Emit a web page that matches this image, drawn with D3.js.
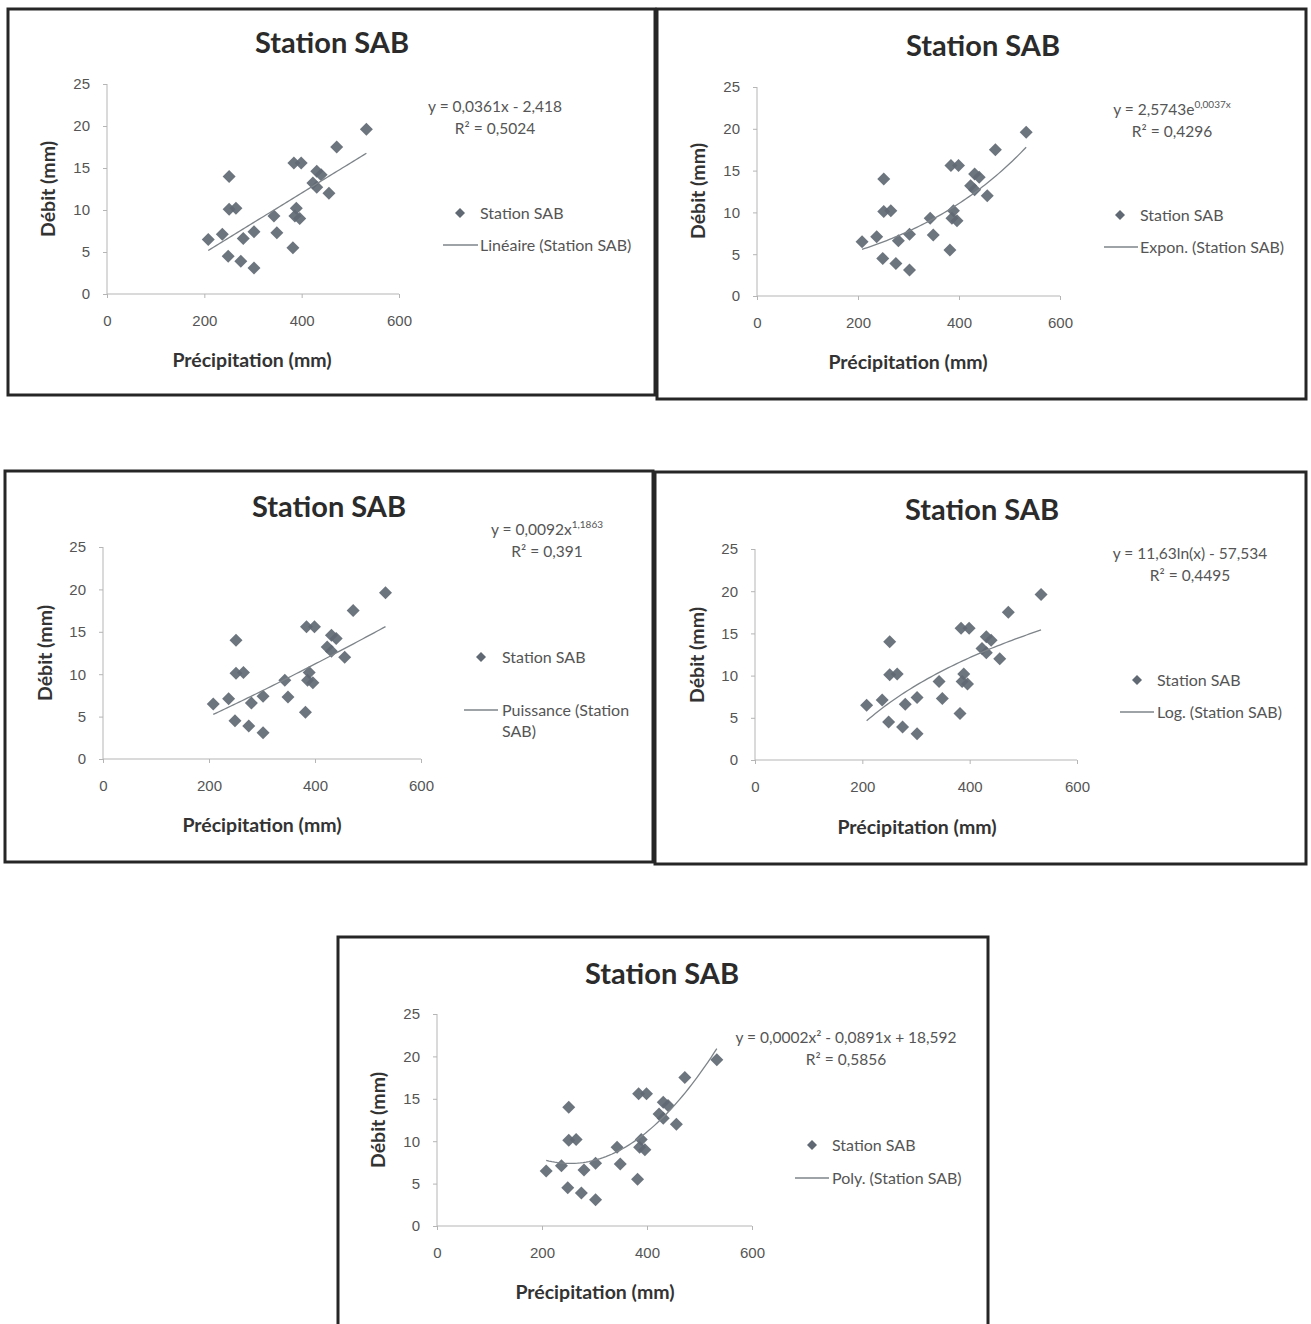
<!DOCTYPE html>
<html>
<head>
<meta charset="utf-8">
<script src="https://cdn.jsdelivr.net/npm/d3@7"></script>
<style>
  body { margin: 0; background: #fff; }
  svg { font-family: Lato, "Open Sans", sans-serif; }
  .tick text { fill: #555; font-size: 15px; }
  .domain, .tick line { stroke: #b5b5b5; }
</style>
</head>
<body>
<div id="chart"></div>
<script>
// (same 25 points in every panel)
var precip = [208, 237, 251, 251, 265, 249, 280, 275, 302, 302, 343, 349, 382,
              384, 399, 389, 386, 396, 423, 431, 440, 431, 456, 472, 533];
var debit = [6.5, 7.1, 14.0, 10.1, 10.2, 4.5, 6.6, 3.9, 7.4, 3.1, 9.3, 7.3, 5.5,
             15.6, 15.6, 10.2, 9.3, 9.0, 13.2, 14.6, 14.2, 12.7, 12.0, 17.5, 19.6];

var xTicks = [0, 200, 400, 600];
var yTicks = [0, 5, 10, 15, 20, 25];

var titleText = "Station SAB";
var seriesName = "Station SAB";
var xTitle = "Précipitation (mm)";
var yTitle = "Débit (mm)";

var fitTypes = ["linear", "exp", "power", "log", "poly"];
var trendNames = [["Linéaire (Station SAB)"], ["Expon. (Station SAB)"],
                  ["Puissance (Station", "SAB)"], ["Log. (Station SAB)"], ["Poly. (Station SAB)"]];
// equation lines: [text, superscript?]
var equations = [
  [[["y = 0,0361x - 2,418", false]], [["R² = 0,5024", false]]],
  [[["y = 2,5743e", false], ["0,0037x", true]], [["R² = 0,4296", false]]],
  [[["y = 0,0092x", false], ["1,1863", true]], [["R² = 0,391", false]]],
  [[["y = 11,63ln(x) - 57,534", false]], [["R² = 0,4495", false]]],
  [[["y = 0,0002x² - 0,0891x + 18,592", false]], [["R² = 0,5856", false]]]
];

// panel layout
var panels = [
  {box: [8, 9, 647, 386], plot: [107, 84, 399, 294], title: [332, 43], xl: [252, 360], yl: [48, 189],
   eq: [495, 107], mk: [460, 213], leg: [443, 478, 245], txt: 480},
  {box: [657, 9, 649, 390], plot: [757, 87, 1060, 296], title: [983, 46], xl: [908, 362], yl: [698, 191],
   eq: [1172, 110], mk: [1120, 215], leg: [1104, 1138, 247], txt: 1140},
  {box: [5, 471, 648, 391], plot: [103, 547, 421, 759], title: [329, 507], xl: [262, 825], yl: [45, 653],
   eq: [547, 530], mk: [481, 657], leg: [464, 498, 710], txt: 502},
  {box: [655, 472, 651, 392], plot: [755, 549, 1077, 760], title: [982, 510], xl: [917, 827], yl: [697, 655],
   eq: [1190, 554], mk: [1137, 680], leg: [1120, 1154, 712], txt: 1157},
  {box: [338, 937, 650, 400], plot: [437, 1014, 752, 1226], title: [662, 974], xl: [595, 1292], yl: [378, 1120],
   eq: [846, 1038], mk: [812, 1145], leg: [795, 829, 1178], txt: 832}
];

// least squares on basis functions
function solve(A, b) {
  var n = b.length;
  for (var i = 0; i < n; i++) {
    var p = i;
    for (var k = i + 1; k < n; k++) if (Math.abs(A[k][i]) > Math.abs(A[p][i])) p = k;
    var t = A[i]; A[i] = A[p]; A[p] = t;
    var tb = b[i]; b[i] = b[p]; b[p] = tb;
    for (var k = i + 1; k < n; k++) {
      var f = A[k][i] / A[i][i];
      for (var j = i; j < n; j++) A[k][j] -= f * A[i][j];
      b[k] -= f * b[i];
    }
  }
  var c = new Array(n);
  for (var i = n - 1; i >= 0; i--) {
    var s = b[i];
    for (var j = i + 1; j < n; j++) s -= A[i][j] * c[j];
    c[i] = s / A[i][i];
  }
  return c;
}
function lsq(basis, xs, ys) {
  var n = basis.length;
  var A = d3.range(n).map(() => d3.range(n).map(() => 0));
  var b = d3.range(n).map(() => 0);
  xs.forEach(function(x, i) {
    var f = basis.map(g => g(x));
    for (var r = 0; r < n; r++) {
      b[r] += f[r] * ys[i];
      for (var c = 0; c < n; c++) A[r][c] += f[r] * f[c];
    }
  });
  return solve(A, b);
}
function trendFn(type) {
  var one = () => 1, id = x => x;
  var lny = debit.map(Math.log), lnx = precip.map(Math.log);
  if (type == "linear") { var c = lsq([one, id], precip, debit); return x => c[0] + c[1] * x; }
  if (type == "exp") { var c = lsq([one, id], precip, lny); return x => Math.exp(c[0] + c[1] * x); }
  if (type == "power") { var c = lsq([one, id], lnx, lny); return x => Math.exp(c[0]) * Math.pow(x, c[1]); }
  if (type == "log") { var c = lsq([one, id], lnx, debit); return x => c[0] + c[1] * Math.log(x); }
  var c = lsq([one, id, x => x * x], precip, debit);
  return x => c[0] + c[1] * x + c[2] * x * x;
}

var svg = d3.select("#chart").append("svg").attr("width", 1311).attr("height", 1324);
var diamond = r => `M0,${-r}L${r},0L0,${r}L${-r},0Z`;
var data = precip.map((p, i) => ({x: p, y: debit[i]}));

panels.forEach(function(P, k) {
  var g = svg.append("g");
  g.append("rect")
    .attr("x", P.box[0]).attr("y", P.box[1])
    .attr("width", P.box[2]).attr("height", P.box[3])
    .attr("fill", "none").attr("stroke", "#262626").attr("stroke-width", 3);

  var x = d3.scaleLinear().domain([0, 600]).range([P.plot[0], P.plot[2]]);
  var y = d3.scaleLinear().domain([0, 25]).range([P.plot[3], P.plot[1]]);

  g.append("g").attr("transform", `translate(0,${P.plot[3]})`)
    .call(d3.axisBottom(x).tickValues(xTicks).tickSize(4).tickPadding(17))
    .call(a => a.select(".domain").attr("d", `M${P.plot[0]},0H${P.plot[2]}`));
  g.append("g").attr("transform", `translate(${P.plot[0]},0)`)
    .call(d3.axisLeft(y).tickValues(yTicks).tickSize(4).tickPadding(13))
    .call(a => a.select(".domain").attr("d", `M0,${P.plot[1]}V${P.plot[3]}`));

  // points
  g.append("g").selectAll("path").data(data).enter().append("path")
    .attr("d", diamond(6.5))
    .attr("transform", d => `translate(${x(d.x)},${y(d.y)})`)
    .attr("fill", "#5f6873").attr("fill-opacity", 0.92);

  // trendline
  var f = trendFn(fitTypes[k]);
  var xs = d3.range(0, 61).map(i => d3.min(precip) + (d3.max(precip) - d3.min(precip)) * i / 60);
  g.append("path")
    .datum(xs)
    .attr("d", d3.line().x(v => x(v)).y(v => y(f(v))))
    .attr("fill", "none").attr("stroke", "#7d8489").attr("stroke-width", 1.3);

  // titles
  g.append("text").attr("x", P.title[0]).attr("y", P.title[1]).attr("dy", "0.35em")
    .attr("text-anchor", "middle").attr("font-weight", "bold").attr("font-size", 29)
    .attr("fill", "#2b2b2b").text(titleText);
  g.append("text").attr("x", P.xl[0]).attr("y", P.xl[1]).attr("dy", "0.35em")
    .attr("text-anchor", "middle").attr("font-weight", "bold").attr("font-size", 19.5)
    .attr("fill", "#333").text(xTitle);
  g.append("text").attr("transform", `translate(${P.yl[0]},${P.yl[1]}) rotate(-90)`)
    .attr("dy", "0.35em").attr("text-anchor", "middle").attr("font-weight", "bold")
    .attr("font-size", 19.5).attr("fill", "#333").text(yTitle);

  // equation
  equations[k].forEach(function(line, li) {
    var t = g.append("text").attr("x", P.eq[0]).attr("y", P.eq[1] + li * 22).attr("dy", "0.35em")
      .attr("text-anchor", "middle").attr("font-size", 15.5).attr("fill", "#555");
    line.forEach(function(seg) {
      var s = t.append("tspan").text(seg[0]);
      if (seg[1]) s.attr("font-size", 10).attr("dy", "-0.7em");
    });
  });

  // legend
  g.append("path").attr("d", diamond(5)).attr("transform", `translate(${P.mk[0]},${P.mk[1]})`)
    .attr("fill", "#5f6873");
  g.append("text").attr("x", P.txt).attr("y", P.mk[1]).attr("dy", "0.35em")
    .attr("font-size", 16).attr("fill", "#555").text(seriesName);
  g.append("line").attr("x1", P.leg[0]).attr("x2", P.leg[1]).attr("y1", P.leg[2]).attr("y2", P.leg[2])
    .attr("stroke", "#7d8489").attr("stroke-width", 1.3);
  trendNames[k].forEach(function(s, li) {
    g.append("text").attr("x", P.txt).attr("y", P.leg[2] + li * 21).attr("dy", "0.35em")
      .attr("font-size", 16).attr("fill", "#555").text(s);
  });
});
</script>
</body>
</html>
